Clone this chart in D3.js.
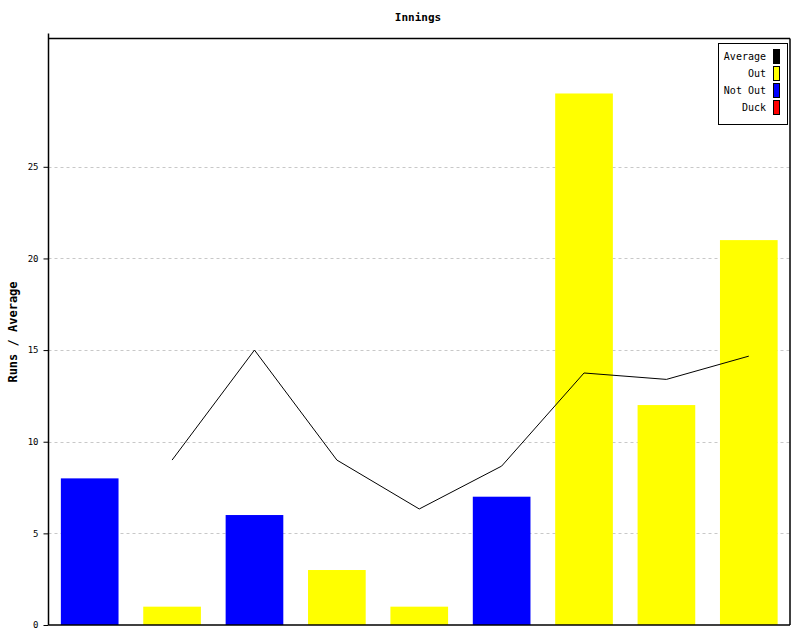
<!DOCTYPE html>
<html><head><meta charset="utf-8">
<script src="https://cdn.jsdelivr.net/npm/d3@7"></script>
<style>body{margin:0;background:#fff}svg{display:block}</style>
</head><body>
<script>
const innings = ["1","2","3","4","5","6","7","8","9"];
const runs = [8, 1, 6, 3, 1, 7, 29, 12, 21];
const status = ["Not Out","Out","Not Out","Out","Out","Not Out","Out","Out","Out"];
const average = [null, 9, 15, 9, 6.33, 8.67, 13.75, 13.4, 14.67];
const yTicks = [0, 5, 10, 15, 20, 25];
const legendItems = ["Average","Out","Not Out","Duck"];
const colors = {"Average":"#000000","Out":"#ffff00","Not Out":"#0000ff","Duck":"#ff0000"};

const W = 800, H = 640;
const m = {left: 48.5, right: 10, top: 38.5, bottom: 15};
const svg = d3.select("body").append("svg").attr("width", W).attr("height", H);
const x = d3.scaleBand().domain(innings).range([m.left, W - m.right]).paddingInner(0.3).paddingOuter(0.15);
const y = d3.scaleLinear().domain([0, 32]).range([H - m.bottom, m.top]);
const font = "'DejaVu Sans Mono', monospace";

// grid
svg.append("g").selectAll("line").data(yTicks.filter(d => d > 0)).join("line")
  .attr("x1", m.left).attr("x2", W - m.right)
  .attr("y1", d => Math.round(y(d)) + 0.5).attr("y2", d => Math.round(y(d)) + 0.5)
  .attr("stroke", "#c8c8c8").attr("stroke-dasharray", "3,3");

// bars
svg.append("g").selectAll("rect").data(innings).join("rect")
  .attr("x", d => x(d)).attr("width", x.bandwidth())
  .attr("y", (d, i) => y(runs[i])).attr("height", (d, i) => y(0) - y(runs[i]))
  .attr("fill", (d, i) => colors[status[i]]);

// average line
const line = d3.line().defined(d => d.v != null)
  .x(d => x(d.k) + x.bandwidth() / 2).y(d => y(d.v));
svg.append("path").datum(innings.map((k, i) => ({k, v: average[i]})))
  .attr("d", line).attr("fill", "none").attr("stroke", "#000").attr("stroke-width", 1);

// frame
svg.append("line").attr("x1", m.left).attr("x2", W - m.right).attr("y1", m.top).attr("y2", m.top).attr("stroke", "#000").attr("stroke-width", 1.5);
svg.append("line").attr("x1", W - m.right).attr("x2", W - m.right).attr("y1", m.top).attr("y2", H - m.bottom).attr("stroke", "#000").attr("stroke-width", 1.5);
svg.append("line").attr("x1", m.left).attr("x2", W - m.right).attr("y1", H - m.bottom).attr("y2", H - m.bottom).attr("stroke", "#000").attr("stroke-width", 1.5);

// y axis
const ya = svg.append("g").attr("transform", `translate(${m.left},0)`)
  .call(d3.axisLeft(y).tickValues(yTicks).tickSize(5).tickSizeOuter(0));
ya.select(".domain").attr("d", `M0,${m.top - 5}V${H - m.bottom}`).attr("stroke-width", 1.5);
ya.selectAll("text").attr("font-family", font).attr("font-size", 9).attr("dx", -2);

// title
svg.append("text").attr("x", 418).attr("y", 21).attr("text-anchor", "middle")
  .attr("font-family", font).attr("font-size", 11).attr("font-weight", "bold").text("Innings");
// y label
svg.append("text").attr("transform", "translate(17,332) rotate(-90)").attr("text-anchor", "middle")
  .attr("font-family", font).attr("font-size", 12).attr("font-weight", "bold").text("Runs / Average");

// legend
const lg = svg.append("g");
lg.append("rect").attr("x", 718.5).attr("y", 43.5).attr("width", 69).attr("height", 81)
  .attr("fill", "#fff").attr("stroke", "#000");
legendItems.forEach((name, i) => {
  const cy = 56 + i * 17;
  lg.append("text").attr("x", 766).attr("y", cy + 4).attr("text-anchor", "end")
    .attr("font-family", font).attr("font-size", 10).text(name);
  lg.append("rect").attr("x", 773.5).attr("y", cy - 6.5).attr("width", 6).attr("height", 14)
    .attr("fill", colors[name]).attr("stroke", "#000");
});
</script>
</body></html>
